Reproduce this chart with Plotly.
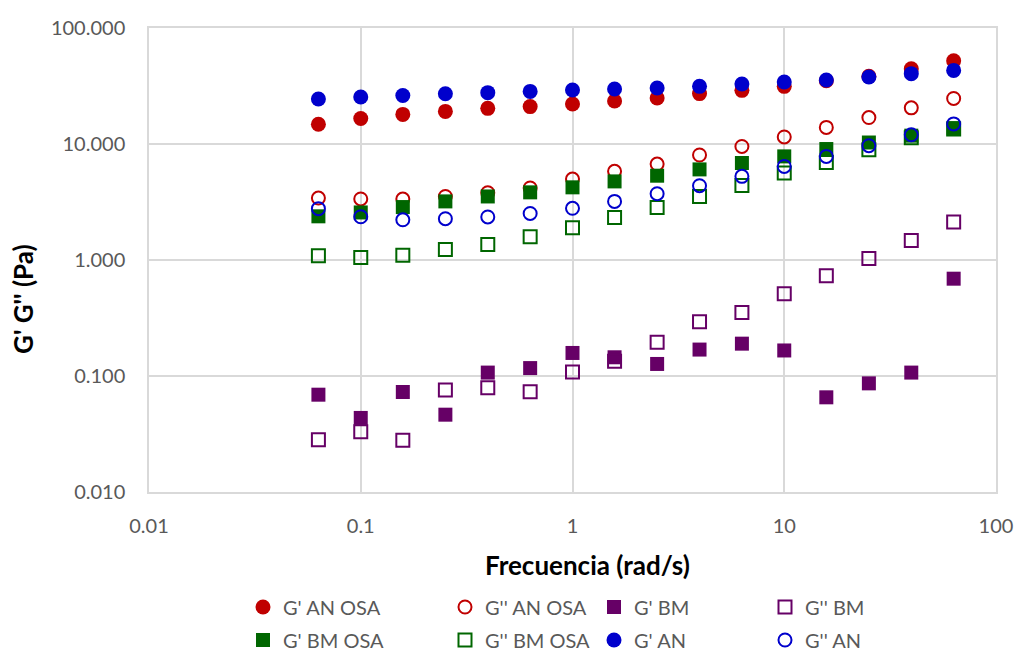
import plotly.graph_objects as go

# Angular frequency sweep (rad/s)
freq = [0.0631, 0.1, 0.158, 0.251, 0.398, 0.631, 1.0, 1.58,
        2.51, 3.98, 6.31, 10.0, 15.8, 25.1, 39.8, 63.1]

# Storage (G') and loss (G'') moduli, Pa
g1_an_osa = [14.8, 16.6, 18.0, 19.1, 20.3, 21.0, 22.1, 23.5,
             24.9, 27.2, 29.0, 31.4, 35.1, 38.3, 44.6, 52.2]
g2_an_osa = [3.42, 3.36, 3.35, 3.53, 3.80, 4.18, 4.99, 5.81,
             6.72, 8.04, 9.53, 11.5, 13.9, 16.9, 20.5, 24.7]
g1_bm = [0.069, 0.0435, 0.0728, 0.0464, 0.107, 0.117, 0.158, 0.145,
         0.127, 0.169, 0.190, 0.166, 0.0655, 0.0864, 0.107, 0.690]
g2_bm = [0.0282, 0.0331, 0.0279, 0.0757, 0.0792, 0.0732, 0.108, 0.134,
         0.195, 0.294, 0.353, 0.512, 0.732, 1.03, 1.47, 2.13]
g1_bm_osa = [2.38, 2.57, 2.86, 3.20, 3.53, 3.83, 4.23, 4.76,
             5.33, 6.04, 6.86, 7.82, 9.05, 10.3, 11.8, 13.7]
g2_bm_osa = [1.09, 1.05, 1.10, 1.23, 1.36, 1.59, 1.90, 2.32,
             2.84, 3.53, 4.39, 5.62, 6.94, 8.93, 11.3, 13.5]
g1_an = [24.4, 25.4, 26.2, 27.1, 27.7, 28.4, 29.2, 29.8,
         30.4, 31.4, 32.9, 34.2, 35.6, 37.8, 40.4, 43.1]
g2_an = [2.77, 2.36, 2.22, 2.27, 2.35, 2.52, 2.79, 3.20,
         3.73, 4.37, 5.26, 6.41, 7.82, 9.67, 12.0, 14.9]

x_tickvals = [0.01, 0.1, 1, 10, 100]
x_ticktext = ["0.01", "0.1", "1", "10", "100"]
y_tickvals = [0.01, 0.1, 1, 10, 100]
y_ticktext = ["0.010", "0.100", "1.000", "10.000", "100.000"]

RED, BLUE, GREEN, PURPLE = "#C00000", "#0000CC", "#006600", "#660066"
W, H = 1016, 653

# (name, values, colour, symbol, legend column marker x, legend row y)
series = [
    ("G' AN OSA", g1_an_osa, RED, "circle", 263, 607),
    ("G'' AN OSA", g2_an_osa, RED, "circle-open", 465, 607),
    ("G' BM", g1_bm, PURPLE, "square", 614, 607),
    ("G'' BM", g2_bm, PURPLE, "square-open", 785, 607),
    ("G' BM OSA", g1_bm_osa, GREEN, "square", 263, 640),
    ("G'' BM OSA", g2_bm_osa, GREEN, "square-open", 465, 640),
    ("G' AN", g1_an, BLUE, "circle", 614, 640),
    ("G'' AN", g2_an, BLUE, "circle-open", 785, 640),
]

fig = go.Figure()
legend_layouts = {}
for i, (name, vals, col, sym, lx, ly) in enumerate(series):
    # one single-entry legend per series so each sits in its own grid cell
    key = f"legend{i + 2}"
    is_open = sym.endswith("open")
    is_sq = sym.startswith("square")
    size = (13 if is_open else 14) if is_sq else (13 if is_open else 15)
    fig.add_trace(go.Scatter(
        x=freq, y=vals, name=name, mode="markers", legend=key,
        showlegend=True,
        marker=dict(symbol=sym, size=size, color=col,
                    line=dict(width=2 if is_open else 0, color=col)),
    ))
    legend_layouts[key] = dict(
        xref="container", yref="container",
        x=(lx - 20) / W, y=1 - ly / H,
        xanchor="left", yanchor="middle",
        bgcolor="rgba(0,0,0,0)", borderwidth=0,
        itemsizing="trace",
        font=dict(family="Lato", size=20, color="#595959"),
    )

axis_common = dict(
    type="log", range=[-2, 2],
    showgrid=True, gridcolor="#d9d9d9", gridwidth=1.5,
    showline=True, linecolor="#d9d9d9", linewidth=1.5, mirror=True,
    ticks="outside", tickcolor="rgba(0,0,0,0)",
    zeroline=False,
    tickfont=dict(family="Lato", size=20, color="#595959"),
)

fig.update_layout(
    width=W, height=H,
    margin=dict(l=149, r=20, t=28, b=161, autoexpand=False),
    paper_bgcolor="white", plot_bgcolor="white",
    showlegend=True,
    xaxis=dict(axis_common, tickmode="array", ticklen=15,
               tickvals=x_tickvals, ticktext=x_ticktext),
    yaxis=dict(axis_common, tickmode="array", ticklen=18,
               tickvals=y_tickvals, ticktext=y_ticktext),
    annotations=[
        dict(text="<b>Frecuencia (rad/s)</b>", xref="paper", yref="paper",
             x=(587 - 149) / (996 - 149), y=-(565 - 492) / (492 - 28),
             xanchor="center", yanchor="middle", showarrow=False,
             font=dict(family="Lato", size=26, color="#000000")),
        dict(text="<b>G' G'' (Pa)</b>", xref="paper", yref="paper",
             x=-(149 - 23) / (996 - 149), y=(492 - 299) / (492 - 28),
             xanchor="center", yanchor="middle", showarrow=False,
             textangle=-90,
             font=dict(family="Lato", size=26, color="#000000")),
    ],
    **legend_layouts,
)

fig.write_html("out.html")
